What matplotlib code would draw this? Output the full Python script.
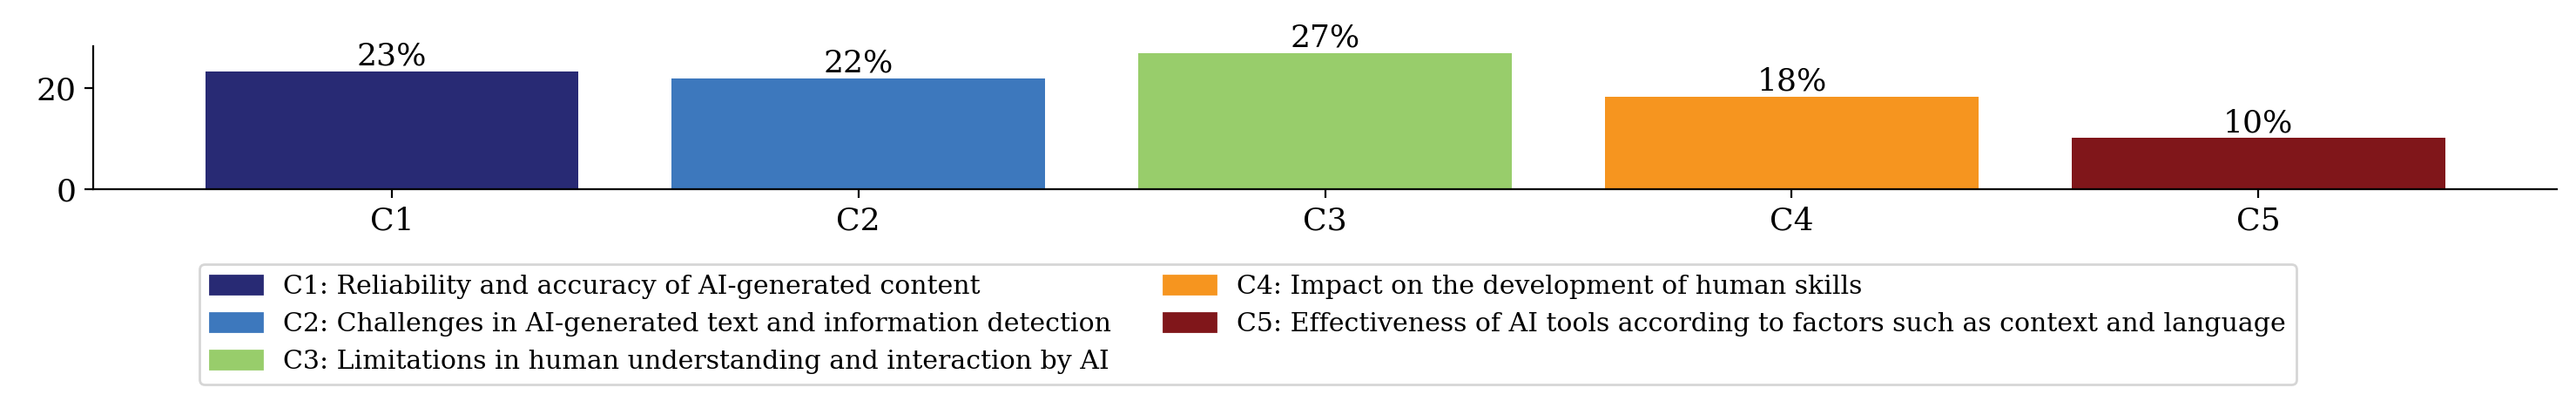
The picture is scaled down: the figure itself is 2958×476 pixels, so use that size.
import numpy as np
import matplotlib.pyplot as plt
from matplotlib.patches import Patch

plt.rcParams['font.family'] = 'DejaVu Serif'

# data
categories = ['C1', 'C2', 'C3', 'C4', 'C5']
values = [23.3, 21.9, 26.9, 18.3, 10.1]
pct_labels = ['23%', '22%', '27%', '18%', '10%']
descriptions = [
    'C1: Reliability and accuracy of AI-generated content',
    'C2: Challenges in AI-generated text and information detection',
    'C3: Limitations in human understanding and interaction by AI',
    'C4: Impact on the development of human skills',
    'C5: Effectiveness of AI tools according to factors such as context and language',
]
colors = ['#282a74', '#3d78bd', '#98cd6b', '#f6951f', '#80161a']

fig = plt.figure(figsize=(14.79, 2.38), dpi=200)
ax = fig.add_axes([0.0362, 0.5441, 0.9564, 0.3446])

x = np.arange(len(categories))
bars = ax.bar(x, values, width=0.8, color=colors)
for b, lab in zip(bars, pct_labels):
    ax.text(b.get_x() + b.get_width() / 2, b.get_height(), lab,
            ha='center', va='bottom', fontsize=13)

ax.set_xticks(x)
ax.set_xticklabels(categories, fontsize=13)
ax.set_yticks([0, 20])
ax.tick_params(axis='y', labelsize=13)
ax.spines['top'].set_visible(False)
ax.spines['right'].set_visible(False)

handles = [Patch(color=c) for c in colors]
fig.legend(handles, descriptions, loc='upper center', ncol=2,
           bbox_to_anchor=(0.4845, 0.395), fontsize=10.8)

plt.savefig('out.png', dpi=200)
